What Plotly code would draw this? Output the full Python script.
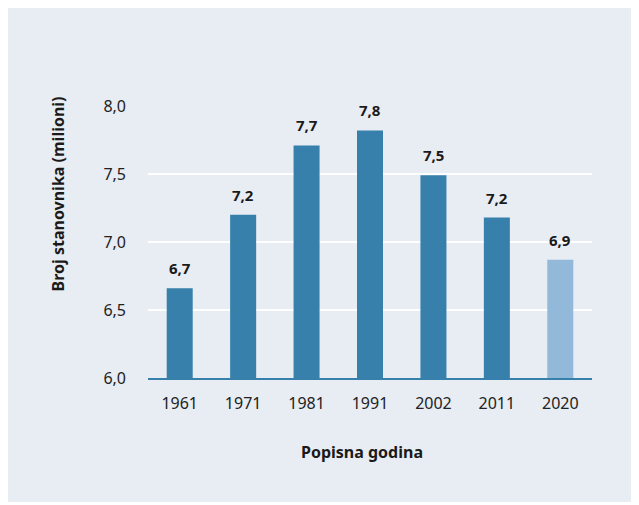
import plotly.graph_objects as go

years = ["1961", "1971", "1981", "1991", "2002", "2011", "2020"]
population = [6.66, 7.20, 7.71, 7.82, 7.49, 7.18, 6.87]
labels = ["6,7", "7,2", "7,7", "7,8", "7,5", "7,2", "6,9"]
bar_colors = ["#3780ac"] * 6 + ["#93b9da"]
y_ticks = [6.0, 6.5, 7.0, 7.5, 8.0]
y_tick_text = ["6,0", "6,5", "7,0", "7,5", "8,0"]
x_title = "Popisna godina"
y_title = "Broj stanovnika (milioni)"

FONT = "Noto Sans"

fig = go.Figure(
    go.Bar(
        x=years,
        y=population,
        marker=dict(color=bar_colors, line=dict(width=0)),
        hoverinfo="skip",
    )
)

# category axis: annotation positions use the category index of each year
value_annotations = [
    dict(
        text=lab, x=i, y=val, xref="x", yref="y",
        xanchor="center", yanchor="bottom", yshift=8, showarrow=False,
        font=dict(family=FONT, size=15, color="#1a1a1a", weight="bold"),
    )
    for i, (val, lab) in enumerate(zip(population, labels))
]

fig.update_layout(
    width=628,
    height=494,
    margin=dict(l=140, r=44, t=98, b=124),
    paper_bgcolor="#e8ecf3",
    plot_bgcolor="#e8ecf3",
    bargap=0.59,
    showlegend=False,
    font=dict(family=FONT, size=15, color="#222222"),
    xaxis=dict(
        type="category",
        categoryorder="array",
        categoryarray=years,
        showgrid=False,
        showline=True,
        linecolor="#3780ac",
        linewidth=2,
        ticks="",
        ticklabelstandoff=10,
        tickfont=dict(family=FONT, size=16, color="#222222"),
    ),
    yaxis=dict(
        range=[6, 8.0],
        tickvals=y_ticks,
        ticktext=y_tick_text,
        showgrid=True,
        gridcolor="#ffffff",
        gridwidth=2,
        zeroline=False,
        showline=False,
        ticks="",
        ticklabelstandoff=21,
        tickfont=dict(family=FONT, size=16, color="#222222"),
    ),
    annotations=value_annotations + [
        dict(
            text=x_title, xref="paper", yref="paper", x=0.482, y=-0.272,
            xanchor="center", yanchor="middle", showarrow=False,
            font=dict(family=FONT, size=16, color="#1a1a1a", weight="bold"),
        ),
        dict(
            text=y_title, xref="paper", yref="paper", x=-0.203, y=0.678,
            xanchor="center", yanchor="middle", showarrow=False, textangle=-90,
            font=dict(family=FONT, size=16, color="#1a1a1a", weight="bold"),
        ),
    ],
)

fig.write_html("out.html")
